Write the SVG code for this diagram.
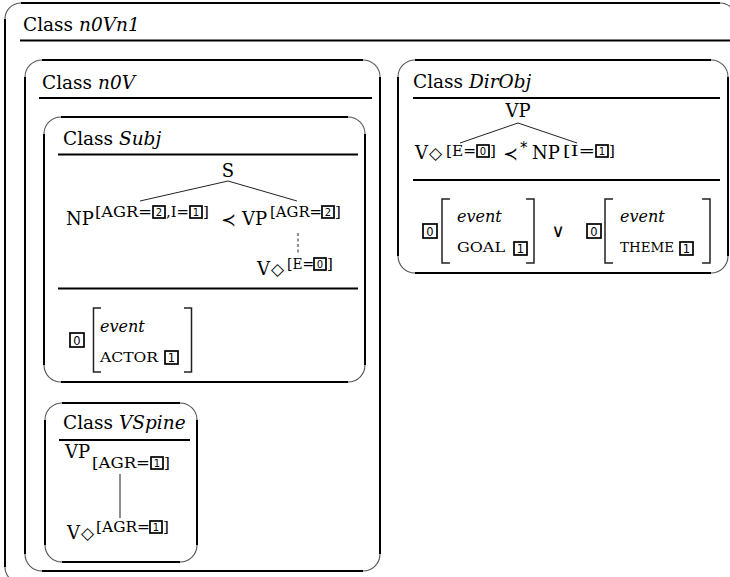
<svg xmlns="http://www.w3.org/2000/svg" width="730" height="577" viewBox="0 0 730 577">
<defs>
<style>
text { font-family: "DejaVu Serif", "Liberation Serif", serif; fill: #000; }
.h { font-size: 18.5px; }
.m { font-size: 18px; }
.s { font-size: 15px; }
.it { font-style: italic; }
.sc { font-size: 13px; }
.ev { font-size: 16px; font-style: italic; }
.sym { font-family: "DejaVu Sans", sans-serif; }
.dm { font-family: "DejaVu Sans", sans-serif; font-size: 17px; font-weight: bold; }
.d { font-family: "DejaVu Sans", sans-serif; font-size: 10px; text-anchor: middle; }
.db { font-family: "DejaVu Sans", sans-serif; font-size: 11.5px; text-anchor: middle; }
.ln { stroke: #000; stroke-width: 2; fill: none; }
.arc { stroke: #555; stroke-width: 1.1; fill: none; }
.rule { stroke: #000; stroke-width: 2; }
.bx { fill: #fff; stroke: #000; stroke-width: 1.7; }
.br { stroke: #222; stroke-width: 1.5; fill: none; }
.edge { stroke: #222; stroke-width: 1; fill: none; }
</style>
</defs>
<rect width="730" height="577" fill="#fff"/>

<g id="n0Vn1">
<path class="ln" d="M21 3 H720 M5 19 V567 M21 583 H720 M736 19 V567"/>
<path class="arc" d="M5 19 A16 16 0 0 1 21 3 M720 3 A16 16 0 0 1 736 19 M5 567 A16 16 0 0 0 21 583"/>
<text class="h" x="23" y="31">Class <tspan class="it">n0Vn1</tspan></text>
<line class="rule" x1="20" y1="40.5" x2="730" y2="40.5"/>
</g>

<g id="n0V">
<path class="ln" d="M42 60 H363 M25 77 V554 M42 571 H363 M380 77 V554"/>
<path class="arc" d="M25 77 A17 17 0 0 1 42 60 M363 60 A17 17 0 0 1 380 77 M25 554 A17 17 0 0 0 42 571 M380 554 A17 17 0 0 1 363 571"/>
<text class="h" x="42" y="89">Class <tspan class="it">n0V</tspan></text>
<line class="rule" x1="39" y1="98" x2="372" y2="98"/>
</g>

<g id="Subj">
<path class="ln" d="M61 117 H348 M44 134 V365 M61 382 H348 M365 134 V365"/>
<path class="arc" d="M44 134 A17 17 0 0 1 61 117 M348 117 A17 17 0 0 1 365 134 M44 365 A17 17 0 0 0 61 382 M365 365 A17 17 0 0 1 348 382"/>
<text class="h" x="63" y="145">Class <tspan class="it">Subj</tspan></text>
<line class="rule" x1="58" y1="154.5" x2="358" y2="154.5"/>
<text class="m" x="228" y="177" text-anchor="middle">S</text>
<text class="m" x="66" y="225">NP</text>
<text class="s" x="95" y="217" textLength="57" lengthAdjust="spacingAndGlyphs">[AGR=</text>
<rect class="bx" x="153" y="206" width="12" height="12"/><text class="d" x="159" y="215.5">2</text>
<text class="s" x="166" y="217" textLength="23" lengthAdjust="spacingAndGlyphs">,I=</text>
<rect class="bx" x="190" y="206" width="12" height="12"/><text class="d" x="196" y="215.5">1</text>
<text class="s" x="203" y="217">]</text>
<text class="m sym" x="221" y="226">≺</text>
<text class="m" x="242" y="225">VP</text>
<text class="s" x="270" y="217" textLength="52" lengthAdjust="spacingAndGlyphs">[AGR=</text>
<rect class="bx" x="322" y="206" width="12" height="12"/><text class="d" x="328" y="215.5">2</text>
<text class="s" x="335" y="217">]</text>
<text class="m" x="257" y="275">V</text>
<text class="dm" x="271" y="275">◇</text>
<text class="s" x="287" y="269" textLength="27" lengthAdjust="spacingAndGlyphs">[E=</text>
<rect class="bx" x="314" y="258" width="12" height="12"/><text class="d" x="320" y="267.5">0</text>
<text class="s" x="327" y="269">]</text>
<line class="rule" x1="58" y1="288.5" x2="358" y2="288.5"/>
<rect class="bx" x="70" y="333" width="14" height="14"/><text class="db" x="77" y="344.5">0</text>
<path class="br" d="M101 308 H93.5 V372 H101 M184 308 H191.5 V372 H184"/>
<text class="ev" x="100" y="332">event</text>
<text class="sc" x="100" y="362" textLength="58" lengthAdjust="spacingAndGlyphs">ACTOR</text>
<rect class="bx" x="165" y="351" width="13" height="13"/><text class="db" x="171.5" y="362">1</text>
</g>

<g id="VSpine">
<path class="ln" d="M62 403 H180 M45 420 V545 M62 562 H180 M197 420 V545"/>
<path class="arc" d="M45 420 A17 17 0 0 1 62 403 M180 403 A17 17 0 0 1 197 420 M45 545 A17 17 0 0 0 62 562 M197 545 A17 17 0 0 1 180 562"/>
<text class="h" x="63" y="429">Class <tspan class="it">VSpine</tspan></text>
<line class="rule" x1="59" y1="440" x2="190" y2="440"/>
<text class="m" x="65" y="458">VP</text>
<text class="s" x="92" y="468" textLength="58" lengthAdjust="spacingAndGlyphs">[AGR=</text>
<rect class="bx" x="151" y="457" width="12" height="12"/><text class="d" x="157" y="466.5">1</text>
<text class="s" x="164" y="468">]</text>
<text class="m" x="67" y="539">V</text>
<text class="dm" x="81" y="539">◇</text>
<text class="s" x="96" y="532" textLength="54" lengthAdjust="spacingAndGlyphs">[AGR=</text>
<rect class="bx" x="150" y="521" width="12" height="12"/><text class="d" x="156" y="530.5">1</text>
<text class="s" x="163" y="532">]</text>
</g>

<g id="DirObj">
<path class="ln" d="M415 60 H711 M398 77 V256 M415 273 H711 M728 77 V256"/>
<path class="arc" d="M398 77 A17 17 0 0 1 415 60 M711 60 A17 17 0 0 1 728 77 M398 256 A17 17 0 0 0 415 273 M728 256 A17 17 0 0 1 711 273"/>
<text class="h" x="413" y="88">Class <tspan class="it">DirObj</tspan></text>
<line class="rule" x1="413" y1="98" x2="720" y2="98"/>
<text class="m" x="518" y="117" text-anchor="middle">VP</text>
<text class="m" x="415" y="159">V</text>
<text class="dm" x="429" y="159">◇</text>
<text class="s" x="446" y="156" textLength="30" lengthAdjust="spacingAndGlyphs">[E=</text>
<rect class="bx" x="477" y="145" width="12" height="12"/><text class="d" x="483" y="154.5">0</text>
<text class="s" x="490" y="156">]</text>
<text class="m sym" x="503" y="160">≺</text>
<text class="s sym" x="520" y="153">*</text>
<text class="m" x="532" y="159">NP</text>
<text class="s" x="563" y="156" textLength="32" lengthAdjust="spacingAndGlyphs">[I=</text>
<rect class="bx" x="596" y="145" width="12" height="12"/><text class="d" x="602" y="154.5">1</text>
<text class="s" x="609" y="156">]</text>
<line class="rule" x1="413" y1="180" x2="720" y2="180"/>
<rect class="bx" x="423" y="224" width="14" height="14"/><text class="db" x="430" y="235.5">0</text>
<path class="br" d="M450 199 H442 V263 H450 M526 199 H534 V263 H526"/>
<text class="ev" x="457" y="222">event</text>
<text class="sc" x="457" y="252" textLength="48" lengthAdjust="spacingAndGlyphs">GOAL</text>
<rect class="bx" x="514" y="242" width="13" height="13"/><text class="db" x="520.5" y="253">1</text>
<text class="sym" x="558" y="237" font-size="18" text-anchor="middle">∨</text>
<rect class="bx" x="587" y="224" width="14" height="14"/><text class="db" x="594" y="235.5">0</text>
<path class="br" d="M613 199 H605 V263 H613 M702 199 H710 V263 H702"/>
<text class="ev" x="620" y="222">event</text>
<text class="sc" x="620" y="252" textLength="54" lengthAdjust="spacingAndGlyphs">THEME</text>
<rect class="bx" x="680" y="242" width="13" height="13"/><text class="db" x="686.5" y="253">1</text>
</g>

<g id="connectors">
<line class="edge" x1="228" y1="181" x2="140" y2="201"/>
<line class="edge" x1="228" y1="181" x2="297" y2="201"/>
<line class="edge" x1="298" y1="233" x2="298" y2="255" stroke-dasharray="3 2.5"/>
<line class="edge" x1="120" y1="474" x2="120" y2="518" stroke="#666" stroke-width="1.2"/>
<line class="edge" x1="518" y1="123" x2="460" y2="143"/>
<line class="edge" x1="518" y1="123" x2="577" y2="143"/>
</g>
</svg>
